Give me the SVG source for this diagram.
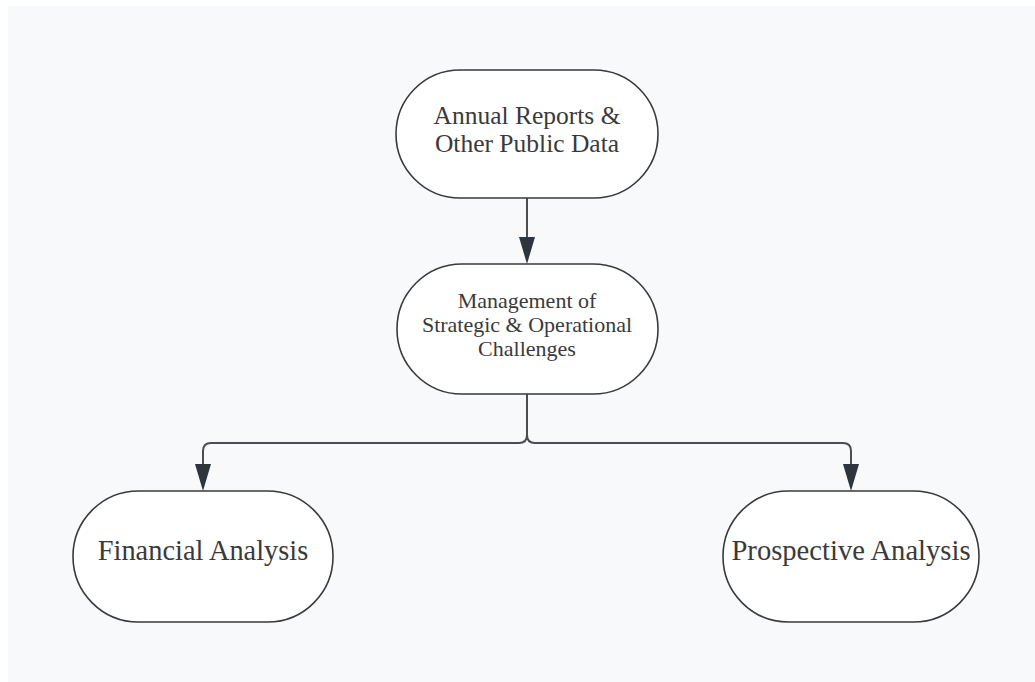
<svg xmlns="http://www.w3.org/2000/svg" width="1035" height="682" viewBox="0 0 1035 682">
<style>
.node{fill:#ffffff;stroke:#3a3a3a;stroke-width:1.6}
.t{font-family:"Liberation Serif","Times New Roman",serif;fill:#3a3a3a;text-anchor:middle}
.edge{fill:none;stroke:#4a4d52;stroke-width:2}
.head{fill:#2f353d}
</style>
<rect x="0" y="0" width="1035" height="682" fill="#ffffff"/>
<rect x="8" y="6" width="1027" height="676" fill="#f8f9fb"/>
<g id="connectors">
<path class="edge" d="M527 198 V238"/>
<polygon class="head" points="519,237 535,237 527,264"/>
<path class="edge" d="M527 394 V435 Q527 443 519 443 H211 Q203 443 203 451 V465"/>
<path class="edge" d="M527 435 Q527 443 535 443 H843 Q851 443 851 451 V465"/>
<polygon class="head" points="195,464 211,464 203,491"/>
<polygon class="head" points="843,464 859,464 851,491"/>
</g>
<g id="node-annual">
<rect class="node" x="396" y="70" width="262" height="128" rx="64"/>
<text class="t" font-size="25.5" x="527" y="124">Annual Reports &amp;</text>
<text class="t" font-size="25.5" x="527" y="152">Other Public Data</text>
</g>
<g id="node-management">
<rect class="node" x="397" y="264" width="261" height="130" rx="65"/>
<text class="t" font-size="22" x="527" y="308">Management of</text>
<text class="t" font-size="22" x="527" y="332">Strategic &amp; Operational</text>
<text class="t" font-size="22" x="527" y="356">Challenges</text>
</g>
<g id="node-financial">
<rect class="node" x="73" y="491" width="260" height="131" rx="65.5"/>
<text class="t" font-size="28.4" x="203" y="560">Financial Analysis</text>
</g>
<g id="node-prospective">
<rect class="node" x="723" y="491" width="256" height="131" rx="65.5"/>
<text class="t" font-size="28.6" x="851" y="560">Prospective Analysis</text>
</g>
</svg>
